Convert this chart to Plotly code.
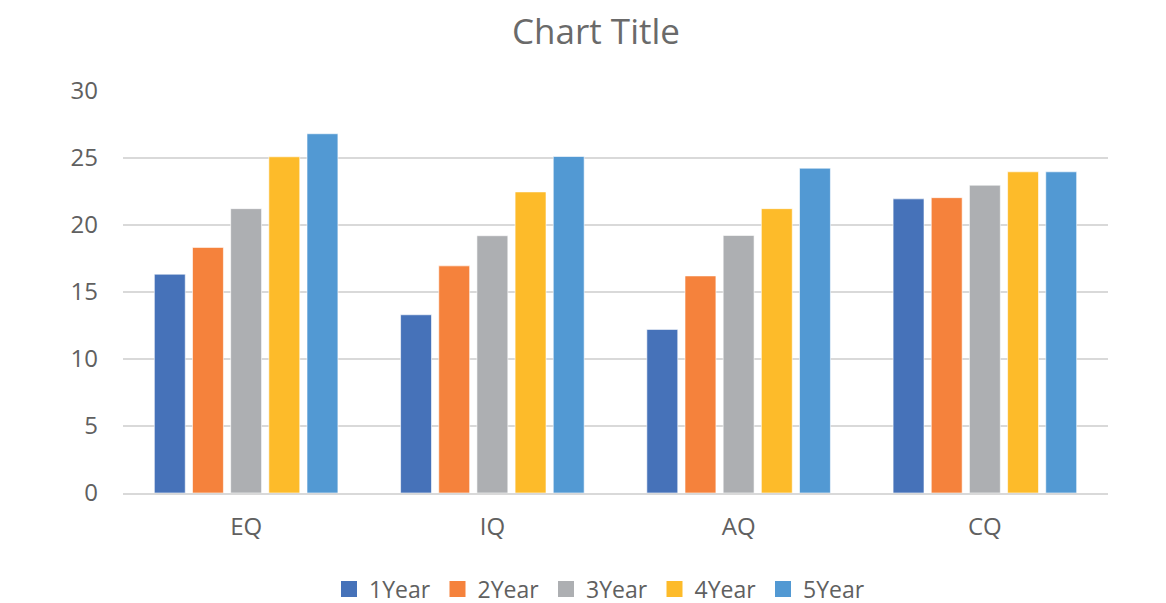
import plotly.graph_objects as go

categories = ["EQ", "IQ", "AQ", "CQ"]
series_names = ["1Year", "2Year", "3Year", "4Year", "5Year"]
y1 = [16.33, 13.3, 12.21, 21.95]
y2 = [18.33, 16.95, 16.2, 22.04]
y3 = [21.22, 19.2, 19.22, 22.97]
y4 = [25.09, 22.47, 21.22, 23.97]
y5 = [26.81, 25.11, 24.24, 23.97]
values = [y1, y2, y3, y4, y5]
colors = ["#4672B9", "#F5823C", "#ADAFB2", "#FDBB2A", "#5299D3"]

font_family = "'Open Sans', sans-serif"
grey = "#606060"

W, H = 1158, 600  # page body has an 8px margin

fig = go.Figure()
for name, vals, c in zip(series_names, values, colors):
    fig.add_trace(go.Bar(
        x=categories, y=vals, name=name, showlegend=False,
        marker=dict(color=c, line=dict(color="rgba(255,255,255,0.6)", width=1)),
    ))
# legend entries with larger square swatches
for name, c in zip(series_names, colors):
    fig.add_trace(go.Scatter(
        x=[None], y=[None], mode="markers", name=name,
        marker=dict(symbol="square", size=16, color=c),
    ))

fig.update_layout(
    width=W, height=H,
    paper_bgcolor="white", plot_bgcolor="white",
    margin=dict(l=115, r=58, t=83, b=115),
    barmode="group", bargap=0.225, bargroupgap=0.19,
    title=dict(text="Chart Title", x=588 / W, xref="container", xanchor="center",
               y=1 - 24 / H, yref="container", yanchor="middle",
               font=dict(family=font_family, size=35, color="#6a6a6a")),
    font=dict(family=font_family, color=grey),
    legend=dict(orientation="h", xref="container", x=321 / W, xanchor="left",
                yref="container", y=1 - 581 / H, yanchor="middle",
                font=dict(size=23, color=grey), traceorder="normal",
                itemwidth=30, entrywidth=63.5, entrywidthmode="pixels"),
    showlegend=True,
)
fig.update_xaxes(
    showgrid=False, showline=True, linecolor="#d9d9d9", linewidth=1.5,
    ticks="", tickfont=dict(size=24, color=grey), ticklabelstandoff=11,
)
fig.update_yaxes(
    range=[0, 30], dtick=5, showgrid=True, gridcolor="#d9d9d9", gridwidth=1.5,
    zeroline=False, ticks="", tickfont=dict(size=24, color=grey), ticklabelstandoff=24,
)

fig.write_html("out.html")
